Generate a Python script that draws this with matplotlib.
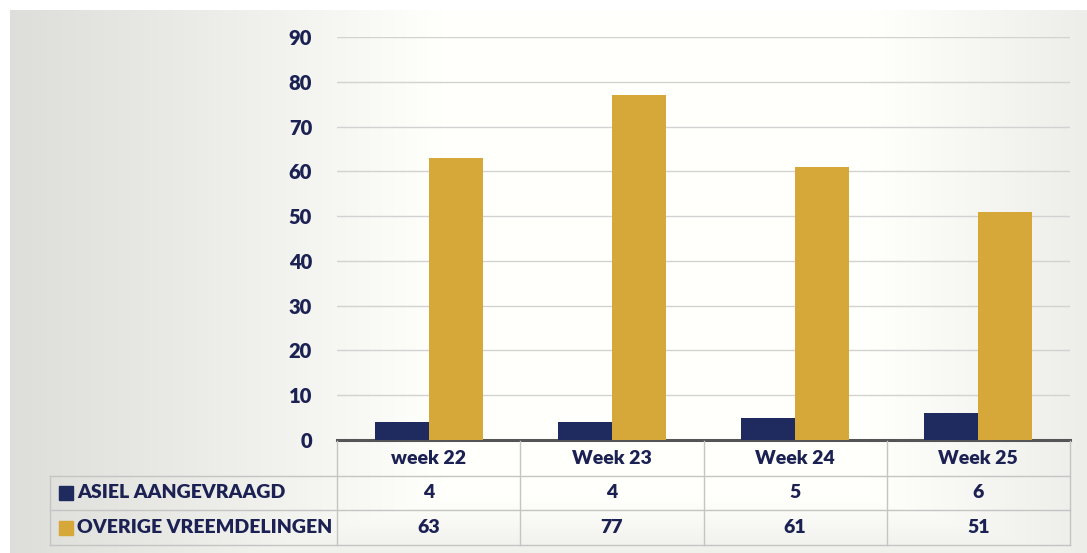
import numpy as np
import matplotlib.pyplot as plt

# weekly counts
weeks = ["week 22", "Week 23", "Week 24", "Week 25"]
asiel = [4, 4, 5, 6]
overige = [63, 77, 61, 51]
series_names = ["ASIEL AANGEVRAAGD", "OVERIGE VREEMDELINGEN"]

navy = "#1f2b5e"
gold = "#d6a739"
txt = "#1b2152"
W, H = 1087, 553

plt.rcParams["font.family"] = ["Lato", "DejaVu Sans"]
fig = plt.figure(figsize=(W / 100, H / 100), dpi=100)

# scanned-paper background: grey towards the left and right edges
bg = fig.add_axes([0, 0, 1, 1], zorder=-10)
xx = np.linspace(0, 1, 400)
yy = np.linspace(0, 1, 200)
X, Y = np.meshgrid(xx, yy)
shade = 0.87 + 0.13 * np.clip(X / 0.4, 0, 1) ** 1.1
shade = np.minimum(shade, 0.93 + 0.07 * np.clip((1 - X) / 0.2, 0, 1))
shade = np.minimum(shade, 0.94 + 0.06 * np.clip((1 - Y) / 0.1, 0, 1))
img = np.dstack([shade, shade, shade * 0.985])
bg.imshow(img, extent=[10, W, 0, H - 10], aspect="auto", origin="upper")
bg.set_xlim(0, W)
bg.set_ylim(0, H)
bg.axis("off")

left, right = 337, 1070
y0, y90 = 440, 37
ax = fig.add_axes([left / W, 1 - y0 / H, (right - left) / W, (y0 - y90) / H])
ax.patch.set_alpha(0)

x = np.arange(len(weeks))
bw = 0.295
ax.bar(x - bw / 2, asiel, bw, color=navy, zorder=3)
ax.bar(x + bw / 2, overige, bw, color=gold, zorder=3)

ax.set_xlim(-0.5, len(weeks) - 0.5)
ax.set_ylim(0, 90)
ax.set_yticks(range(0, 91, 10))
ax.yaxis.grid(True, color="#d2d2d2", lw=1)
ax.set_axisbelow(True)
ax.set_xticks([])
for s in ["top", "right", "left"]:
    ax.spines[s].set_visible(False)
ax.spines["bottom"].set_color("#555555")
ax.spines["bottom"].set_linewidth(2.2)
ax.tick_params(axis="y", length=0, pad=18, labelsize=14.5, labelcolor=txt)
for lab in ax.get_yticklabels():
    lab.set_fontweight("heavy")

# data table under the chart
tb_top, tb_bot = 441, 545
axt = fig.add_axes([left / W, 1 - tb_bot / H, (right - left) / W, (tb_bot - tb_top) / H])
axt.set_xlim(-0.5, len(weeks) - 0.5)
axt.set_ylim(0, 3)
axt.axis("off")

unit = (right - left) / len(weeks)
grid_kw = dict(color="#c4c4c4", lw=1, clip_on=False)
x_label = -0.5 - (left - 50) / unit
for yv in [0, 1, 2]:
    axt.plot([x_label, len(weeks) - 0.5], [yv, yv], **grid_kw)
axt.plot([x_label, x_label], [0, 2], **grid_kw)
for xv in np.arange(-0.5, len(weeks), 1.0):
    axt.plot([xv, xv], [0, 3], **grid_kw)

cell_kw = dict(ha="center", va="center", fontsize=14, fontweight="heavy", color=txt)
for i, w in enumerate(weeks):
    axt.text(i, 2.5, w, **cell_kw)
    axt.text(i, 1.5, str(asiel[i]), **cell_kw)
    axt.text(i, 0.5, str(overige[i]), **cell_kw)

for row, name, col in zip([1.5, 0.5], series_names, [navy, gold]):
    axt.plot([-0.5 - (left - 66) / unit], [row], marker="s", ms=10.5, color=col,
             clip_on=False)
    axt.text(-0.5 - (left - 77) / unit, row, name, ha="left", va="center",
             fontsize=14, fontweight="heavy", color=txt, clip_on=False)

fig.savefig("out.png", dpi=100)
